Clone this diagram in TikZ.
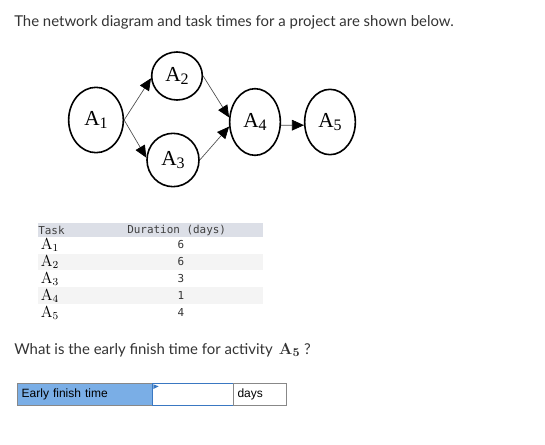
\documentclass[tikz,border=0pt]{standalone}
\usepackage[no-math]{fontspec}
\setmainfont{Lato}
\setmonofont{DejaVu Sans Mono}
\newfontfamily\timesfont{Liberation Serif}
\newfontfamily\arialfont{Liberation Sans}
\usepackage{xcolor}
\definecolor{bodytext}{HTML}{333333}
\definecolor{headgray}{HTML}{DCDFE7}
\definecolor{stripe}{HTML}{F4F4F4}
\definecolor{fieldblue}{HTML}{7AAEE6}
\definecolor{inputblue}{HTML}{3A78C2}
\definecolor{boxgray}{HTML}{888888}
\usetikzlibrary{arrows.meta, positioning, shapes.geometric}
\newcommand{\actlabel}[1]{{\timesfont A\raisebox{-0.35ex}{\fontsize{12}{14}\selectfont #1}}}

\begin{document}
\begin{tikzpicture}[x=0.75pt, y=-0.75pt,
  activity/.style={draw, ellipse, line width=1.2pt, inner sep=0pt,
                   font=\fontsize{16}{18}\selectfont},
  arr/.style={-{Triangle[length=9pt, width=8pt, black]}, draw=black!70, line width=0.5pt},
  txt/.style={anchor=west, inner sep=0pt, text=bodytext, font=\fontsize{11.2}{13}\selectfont},
  headtxt/.style={anchor=west, inner sep=0pt, font=\ttfamily\fontsize{8.2}{9}\selectfont, text=black!75},
  num/.style={inner sep=0pt, font=\ttfamily\fontsize{8.2}{9}\selectfont, text=black!80},
  tasklbl/.style={inner sep=0pt, font=\fontsize{12}{13}\selectfont},
  fieldbox/.style={line width=0.8pt, minimum height=16.5pt, anchor=north west,
                   font=\arialfont\fontsize{9}{11}\selectfont}
]
\useasboundingbox (0,0) rectangle (545,445);

% title
\node[txt] (title) at (14,22) {The network diagram and task times for a project are shown below.};

% network
\node[activity, minimum width=41pt, minimum height=49pt] (a1) at (96,120) {\actlabel{1}};
\node[activity, minimum width=38pt, minimum height=36pt] (a2) at (177,76) {\actlabel{2}};
\node[activity, minimum width=39pt, minimum height=40pt] (a3) at (173,160) {\actlabel{3}};
\node[activity, minimum width=38pt, minimum height=50pt] (a4) at (255,122) {\actlabel{4}};
\node[activity, minimum width=38pt, minimum height=49pt] (a5) at (330,122) {\actlabel{5}};

\draw[arr] (a1.east) -- (a2.185);
\draw[arr] (a1.east) -- (a3.175);
\draw[arr] (a2.east) -- (a4.170);
\draw[arr] (a3.east) -- (a4.190);
\draw[arr] (a4.-7) -- (a5.187);

% table
\fill[headgray] (38,223) rectangle (263,237);
\fill[stripe] (38,254) rectangle (263,270);
\fill[stripe] (38,287) rectangle (263,304);
\node[headtxt] (hdtask) at (38,230) {Task};
\node[headtxt] (hddur) at (127,230) {Duration (days)};
\foreach \i/\d/\y in {1/6/245, 2/6/262, 3/3/279, 4/1/296, 5/4/313} {
  \node[tasklbl] (t\i) at (50,\y) {$\mathrm{A}_{\i}$};
  \node[num] (d\i) at (181,\y) {\d};
}

% question
\node[txt] (question) at (14,350) {What is the early finish time for activity \,{\fontsize{13}{14}\selectfont$\mathbf{A}_{\mathbf{5}}$} ?};

% answer field
\node[fieldbox, draw=boxgray, fill=fieldblue, minimum width=101.25pt,
      inner sep=3pt, text width=95pt] (field) at (17,383) {Early finish time};
\node[fieldbox, draw=inputblue, fill=white, minimum width=60.75pt, inner sep=0pt] (answer) at (152,383) {};
\fill[inputblue] ([xshift=1pt,yshift=-1pt]answer.north west) -- ++(4pt,-1.5pt) -- ++(-4pt,-2pt) -- cycle;
\node[fieldbox, draw=boxgray, fill=white, minimum width=39.75pt,
      inner sep=3pt, text width=34pt] (unit) at (233,383) {days};
\end{tikzpicture}
\end{document}
